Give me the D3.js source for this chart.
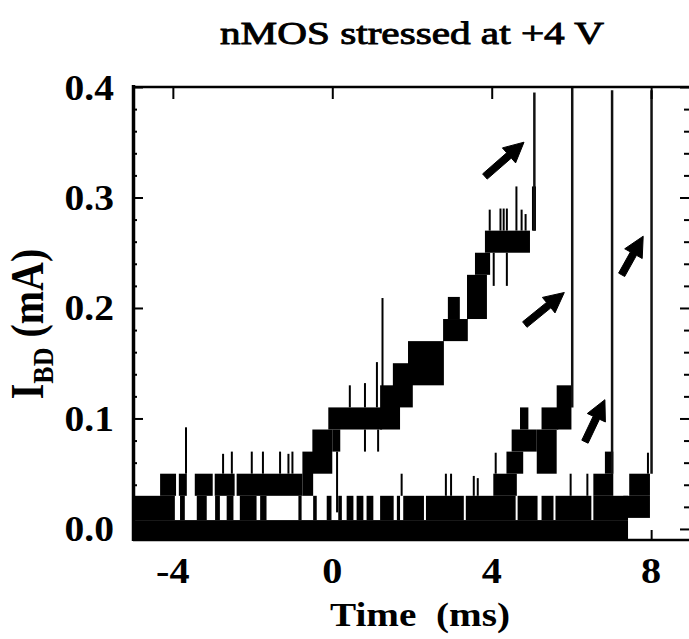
<!DOCTYPE html>
<html>
<head>
<meta charset="utf-8">
<script src="https://cdn.jsdelivr.net/npm/d3@7"></script>
<style>
  body { margin: 0; background: #fff; }
  svg { display: block; }
  text { font-family: "Liberation Serif", "Times New Roman", "DejaVu Serif", serif; }
</style>
</head>
<body>
<svg id="chart" width="689" height="639"></svg>
<script>
// I_BD traces of four nMOS devices stressed at +4 V.
// Time in ms, current in mA.
var timeTicks = [-4, 0, 4, 8];
var currentTicks = [0.0, 0.1, 0.2, 0.3, 0.4];
var minorTicks = [0.02, 0.04, 0.06, 0.08, 0.12, 0.14, 0.16, 0.18,
                  0.22, 0.24, 0.26, 0.28, 0.32, 0.34, 0.36, 0.38];

// Solid noise floor shared by all traces: [t0, t1, lo, hi]
var noiseFloor = [[-5, 7.42, -0.01, 0.008]];
// Stretches where the floor noise jumps up to the 0.03 mA level: [t0, t1]
var noiseBursts = [
  [-5, -3.95], [-3.82, -3.7], [-3.4, -3.15], [-2.94, -2.82], [-2.65, -2.48],
  [-2.32, -1.9], [-1.81, -1.65], [-0.85, -0.77], [-0.48, -0.39], [-0.14, -0.02],
  [0.15, 0.24], [0.36, 0.53], [0.61, 0.78], [0.86, 1.03], [1.2, 1.54], [1.62, 1.7],
  [1.78, 2.3], [2.35, 3.3], [3.35, 4.6], [4.65, 5.15], [5.25, 5.55], [5.6, 6.5],
  [6.55, 7.42]
];

// Staircase parts of each trace: [t0, t1, lo, hi]
var traceA = [
  [-4.32, -3.92, 0.03, 0.05], [-3.85, -3.65, 0.03, 0.05], [-3.45, -3.0, 0.03, 0.05],
  [-2.95, -2.45, 0.03, 0.05], [-2.4, -0.75, 0.03, 0.05], [-0.75, -0.48, 0.03, 0.07],
  [-0.5, 0.0, 0.05, 0.09], [0.0, 0.2, 0.07, 0.09], [-0.1, 1.25, 0.09, 0.11],
  [1.2, 1.7, 0.09, 0.13], [1.52, 2.02, 0.11, 0.15], [1.9, 2.8, 0.13, 0.17],
  [2.78, 3.4, 0.17, 0.19], [2.9, 3.2, 0.19, 0.21], [3.38, 3.88, 0.19, 0.23],
  [3.58, 3.96, 0.23, 0.25], [3.83, 4.96, 0.25, 0.27], [5.01, 5.11, 0.27, 0.31]
];
var traceB = [
  [4.04, 4.63, 0.03, 0.05], [4.37, 4.79, 0.05, 0.07], [4.5, 5.13, 0.07, 0.09],
  [4.71, 4.92, 0.09, 0.11], [5.13, 5.63, 0.05, 0.09], [5.25, 5.67, 0.09, 0.11],
  [5.63, 6.0, 0.09, 0.13]
];
var traceC = [
  [6.55, 7.05, 0.03, 0.05], [6.84, 7.05, 0.05, 0.07]
];
var traceD = [
  [7.3, 7.97, 0.01, 0.03], [7.45, 7.97, 0.03, 0.05]
];

// Single glitches: [t, lo, hi]
var spikes = [
  [-3.67, 0.05, 0.092], [-2.74, 0.05, 0.068], [-2.52, 0.05, 0.07], [-2.02, 0.05, 0.07],
  [-1.74, 0.05, 0.07], [-1.31, 0.05, 0.07], [-1.1, 0.05, 0.068], [-1.0, 0.05, 0.07],
  [0.12, 0.015, 0.07], [0.44, 0.11, 0.13], [0.82, 0.11, 0.132], [0.82, 0.07, 0.09],
  [1.12, 0.11, 0.151], [1.15, 0.07, 0.09], [1.26, 0.11, 0.209],
  [1.74, 0.03, 0.05], [2.85, 0.03, 0.05], [2.98, 0.03, 0.05], [3.55, 0.03, 0.048],
  [3.65, 0.03, 0.046], [3.95, 0.27, 0.289], [4.05, 0.22, 0.25], [4.1, 0.05, 0.069],
  [4.22, 0.27, 0.29], [4.3, 0.27, 0.29], [4.38, 0.27, 0.29], [4.38, 0.22, 0.25],
  [4.62, 0.27, 0.31], [4.75, 0.27, 0.289], [4.85, 0.27, 0.285], [5.98, 0.03, 0.05],
  [6.4, 0.03, 0.05], [7.92, 0.05, 0.069]
];

// Hard breakdown jumps, off the top of the scale: [t, from, to]
var breakdowns = [[5.07, 0.27, 0.395], [6.02, 0.11, 0.4], [7.02, 0.05, 0.397], [8.01, 0.05, 0.397]];

// Arrows pointing at each breakdown: [tailT, tailI, headT, headI]
var arrows = [
  [3.83, 0.319, 4.81, 0.35],
  [4.83, 0.185, 5.82, 0.214],
  [6.34, 0.079, 6.84, 0.117],
  [7.26, 0.23, 7.8, 0.265]
];

var svg = d3.select('#chart');

var x = d3.scaleLinear().domain([-5, 9]).range([133, 691]),
    y = d3.scaleLinear().domain([-0.01, 0.4]).range([540, 87]);

function blocks(data, cls) {
  svg.append('g').attr('class', cls)
    .selectAll('rect').data(data).enter()
    .append('rect')
      .attr('x', function(d) { return x(d[0]); })
      .attr('width', function(d) { return x(d[1]) - x(d[0]); })
      .attr('y', function(d) { return y(d[3]); })
      .attr('height', function(d) { return y(d[2]) - y(d[3]); })
      .attr('fill', '#000');
}

// traces
blocks(noiseFloor, 'floor');
blocks(noiseBursts.map(function(d) { return [d[0], d[1], 0.008, 0.03]; }), 'bursts');
blocks(traceA, 'traceA');
blocks(traceB, 'traceB');
blocks(traceC, 'traceC');
blocks(traceD, 'traceD');

svg.append('g').attr('class', 'spikes')
  .selectAll('line').data(spikes).enter()
  .append('line')
    .attr('x1', function(d) { return x(d[0]); })
    .attr('x2', function(d) { return x(d[0]); })
    .attr('y1', function(d) { return y(d[1]); })
    .attr('y2', function(d) { return y(d[2]); })
    .attr('stroke', '#000')
    .attr('stroke-width', 2);

svg.append('g').attr('class', 'breakdowns')
  .selectAll('line').data(breakdowns).enter()
  .append('line')
    .attr('x1', function(d) { return x(d[0]); })
    .attr('x2', function(d) { return x(d[0]); })
    .attr('y1', function(d) { return y(d[1]); })
    .attr('y2', function(d) { return y(d[2]); })
    .attr('stroke', '#111')
    .attr('stroke-width', 2.5);

// arrows
function arrowPath(d) {
  var x0 = x(d[0]), y0 = y(d[1]), x1 = x(d[2]), y1 = y(d[3]);
  var dx = x1 - x0, dy = y1 - y0, len = Math.sqrt(dx * dx + dy * dy);
  var ux = dx / len, uy = dy / len, nx = -uy, ny = ux;
  var head = 20, hw = 10, sw = 3.5;
  var bx = x1 - ux * head, by = y1 - uy * head;
  var pts = [
    [x0 + nx * sw, y0 + ny * sw],
    [bx + nx * sw, by + ny * sw],
    [bx + nx * hw, by + ny * hw],
    [x1, y1],
    [bx - nx * hw, by - ny * hw],
    [bx - nx * sw, by - ny * sw],
    [x0 - nx * sw, y0 - ny * sw]
  ];
  return 'M' + pts.map(function(p) { return p[0].toFixed(1) + ',' + p[1].toFixed(1); }).join('L') + 'Z';
}

svg.append('g').attr('class', 'arrows')
  .selectAll('path').data(arrows).enter()
  .append('path')
    .attr('d', arrowPath)
    .attr('fill', '#000')
    .attr('stroke', '#000')
    .attr('stroke-linejoin', 'round')
    .attr('stroke-width', 1);

// frame and ticks (the right edge of the frame is cut off in the original)
var frame = svg.append('g').attr('class', 'frame').attr('stroke', '#000').attr('fill', 'none');
frame.append('line').attr('x1', 133).attr('x2', 691).attr('y1', 87).attr('y2', 87).attr('stroke-width', 2.5);
frame.append('line').attr('x1', 133).attr('x2', 691).attr('y1', 540).attr('y2', 540).attr('stroke-width', 2.5);
frame.append('line').attr('x1', 133.5).attr('x2', 133.5).attr('y1', 85).attr('y2', 541).attr('stroke-width', 3.5);

function plainAxis(axis, tx, ty) {
  svg.append('g')
    .attr('transform', 'translate(' + tx + ',' + ty + ')')
    .call(axis)
    .call(function(g) {
      g.select('.domain').remove();
      g.selectAll('text').remove();
      g.selectAll('line').attr('stroke', '#000').attr('stroke-width', 2);
    });
}

plainAxis(d3.axisTop(x).tickValues(timeTicks).tickSize(-12), 0, 87);
plainAxis(d3.axisBottom(x).tickValues(timeTicks).tickSize(-10), 0, 540);
plainAxis(d3.axisLeft(y).tickValues(currentTicks).tickSize(-10), 133, 0);
plainAxis(d3.axisLeft(y).tickValues(minorTicks).tickSize(-4), 133, 0);
plainAxis(d3.axisRight(y).tickValues(currentTicks).tickSize(-11), 691, 0);
plainAxis(d3.axisRight(y).tickValues(minorTicks).tickSize(-7), 691, 0);

// tick labels
svg.append('g').attr('class', 'ylabels')
  .selectAll('text').data(currentTicks).enter()
  .append('text')
    .attr('transform', function(d) { return 'translate(114,' + (y(d) + 12.5) + ') scale(1.13,1)'; })
    .attr('text-anchor', 'end')
    .style('font-size', '35px')
    .style('font-weight', 'bold')
    .text(d3.format('.1f'));

svg.append('g').attr('class', 'xlabels')
  .selectAll('text').data(timeTicks).enter()
  .append('text')
    .attr('transform', function(d) { return 'translate(' + x(d) + ',583) scale(1.15,1)'; })
    .attr('text-anchor', 'middle')
    .style('font-size', '35px')
    .style('font-weight', 'bold')
    .text(function(d) { return d; });

// titles
svg.append('text')
  .attr('x', 412).attr('y', 44)
  .attr('text-anchor', 'middle')
  .attr('textLength', 384).attr('lengthAdjust', 'spacingAndGlyphs')
  .attr('stroke', '#000').attr('stroke-width', 0.9)
  .style('font-size', '32px')
  .text('nMOS stressed at +4 V');

svg.append('text')
  .attr('x', 420).attr('y', 626)
  .attr('text-anchor', 'middle')
  .attr('textLength', 180).attr('lengthAdjust', 'spacingAndGlyphs')
  .style('font-size', '34px')
  .style('font-weight', 'bold')
  .text('Time\u00a0\u00a0(ms)');

var ylab = svg.append('text')
  .attr('transform', 'translate(43,324) scale(1.15,1) rotate(-90)')
  .attr('text-anchor', 'middle')
  .style('font-size', '40px')
  .style('font-weight', 'bold');
ylab.append('tspan').text('I');
ylab.append('tspan').attr('dy', 9).style('font-size', '26px').text('BD');
ylab.append('tspan').attr('dy', -9).text(' (mA)');
</script>
</body>
</html>
